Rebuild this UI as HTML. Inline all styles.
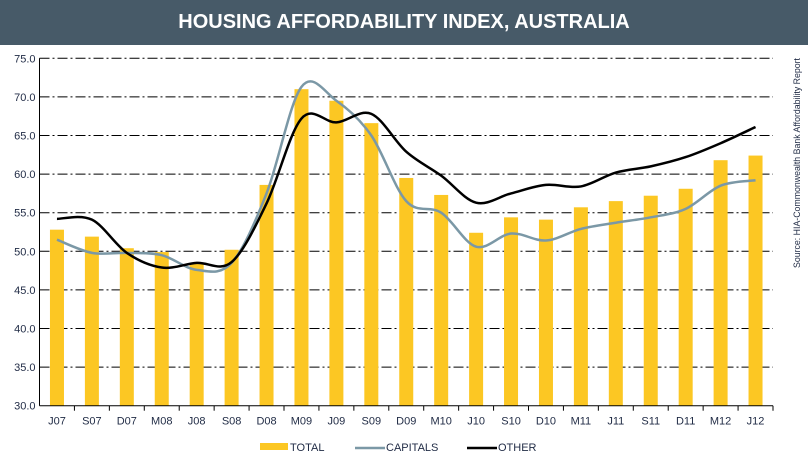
<!DOCTYPE html>
<html><head><meta charset="utf-8"><style>
body{margin:0;background:#fff;width:808px;height:457px;overflow:hidden;font-family:"Liberation Sans",Arial,sans-serif}
#title{position:absolute;left:0;top:0;width:808px;height:45px;background:#475a68;color:#fff;font-weight:bold;font-size:20px;line-height:45px;text-align:center}
svg{position:absolute;left:0;top:0}
</style></head><body>
<div id="title">HOUSING AFFORDABILITY INDEX, AUSTRALIA</div>
<svg id="chart" width="808" height="457"></svg>
<script>
const categories=["J07","S07","D07","M08","J08","S08","D08","M09","J09","S09","D09","M10","J10","S10","D10","M11","J11","S11","D11","M12","J12"];
const totalValues=[52.8,51.9,50.4,49.9,48.5,50.2,58.6,71.0,69.5,66.6,59.5,57.3,52.4,54.4,54.1,55.7,56.5,57.2,58.1,61.8,62.4];
const capitalsValues=[51.5,49.8,49.8,49.5,47.6,48.5,57.5,71.3,69.5,65.0,56.5,55.0,50.6,52.3,51.4,52.9,53.7,54.4,55.5,58.5,59.2];
const otherValues=[54.2,54.1,49.8,47.9,48.5,48.6,56.2,67.2,66.7,67.8,62.9,59.8,56.3,57.5,58.6,58.4,60.2,61.0,62.2,64.0,66.1];
const yTicks=[30,35,40,45,50,55,60,65,70,75];
const NS="http://www.w3.org/2000/svg";
const svg=document.getElementById('chart');
const X0=39.5,X1=773,Y0=405.7,Y1=58.3,vmin=30,vmax=75;
const bw=(X1-X0)/categories.length;
const y=v=>Y0-(v-vmin)/(vmax-vmin)*(Y0-Y1);
const xc=i=>X0+bw*(i+0.5);
function mk(t,a,p){const e=document.createElementNS(NS,t);for(const k in a)e.setAttribute(k,a[k]);(p||svg).appendChild(e);return e;}
yTicks.forEach(v=>{
 if(v>vmin){const g=mk('line',{x1:X0,x2:X1,y1:y(v),y2:y(v),stroke:'#000','stroke-width':1,'stroke-dasharray':'10,3,2,3'});
 
 }
 const t=mk('text',{x:X0-4,y:y(v)+4,'text-anchor':'end','font-size':11,fill:'#1f2a44'});t.textContent=v.toFixed(1);
 
 
});
totalValues.forEach((v,i)=>{
 const r=mk('rect',{x:xc(i)-7,y:y(v),width:14,height:Y0-y(v),fill:'#fcc723'});
 
 
});
mk('line',{x1:X0,x2:X0,y1:Y1,y2:Y0,stroke:'#000','stroke-width':1});
mk('line',{x1:X0,x2:X1,y1:Y0,y2:Y0,stroke:'#000','stroke-width':1});
categories.forEach((c,i)=>{
 mk('line',{x1:X0+bw*(i+1),x2:X0+bw*(i+1),y1:Y0,y2:Y0+5,stroke:'#000'});
 const t=mk('text',{x:xc(i),y:Y0+19,'text-anchor':'middle','font-size':11,fill:'#1f2a44'});t.textContent=c;
 
 
});
function smooth(vals){
 const p=vals.map((v,i)=>[xc(i),y(v)]);let d='M'+p[0][0]+','+p[0][1];
 for(let i=0;i<p.length-1;i++){const a=p[i-1]||p[i],b=p[i],c=p[i+1],e=p[i+2]||c;
  d+=' C'+(b[0]+(c[0]-a[0])/6)+','+(b[1]+(c[1]-a[1])/6)+' '+(c[0]-(e[0]-b[0])/6)+','+(c[1]-(e[1]-b[1])/6)+' '+c[0]+','+c[1];}
 return d;}
const l1=mk('path',{d:smooth(capitalsValues),fill:'none',stroke:'#7b98a6','stroke-width':2.5});


const l2=mk('path',{d:smooth(otherValues),fill:'none',stroke:'#000','stroke-width':2.5});


const lg=mk('g',{});


mk('rect',{x:260,y:443,width:28,height:7,fill:'#fcc723'},lg);
let t=mk('text',{x:290,y:451,'font-size':11,fill:'#1f2a44'},lg);t.textContent='TOTAL';
mk('line',{x1:355,x2:385,y1:448,y2:448,stroke:'#7b98a6','stroke-width':2.5},lg);
t=mk('text',{x:386,y:451,'font-size':11,fill:'#1f2a44'},lg);t.textContent='CAPITALS';
mk('line',{x1:467,x2:497,y1:448,y2:448,stroke:'#000','stroke-width':2.5},lg);
t=mk('text',{x:498,y:451,'font-size':11,fill:'#1f2a44'},lg);t.textContent='OTHER';
t=mk('text',{x:0,y:0,'font-size':9,fill:'#1f2a44','text-anchor':'middle',textLength:210,lengthAdjust:'spacingAndGlyphs',transform:'translate(800,163) rotate(-90)'});
t.textContent='Source: HIA-Commonwealth Bank Affordability Report';


</script>
</body></html>
